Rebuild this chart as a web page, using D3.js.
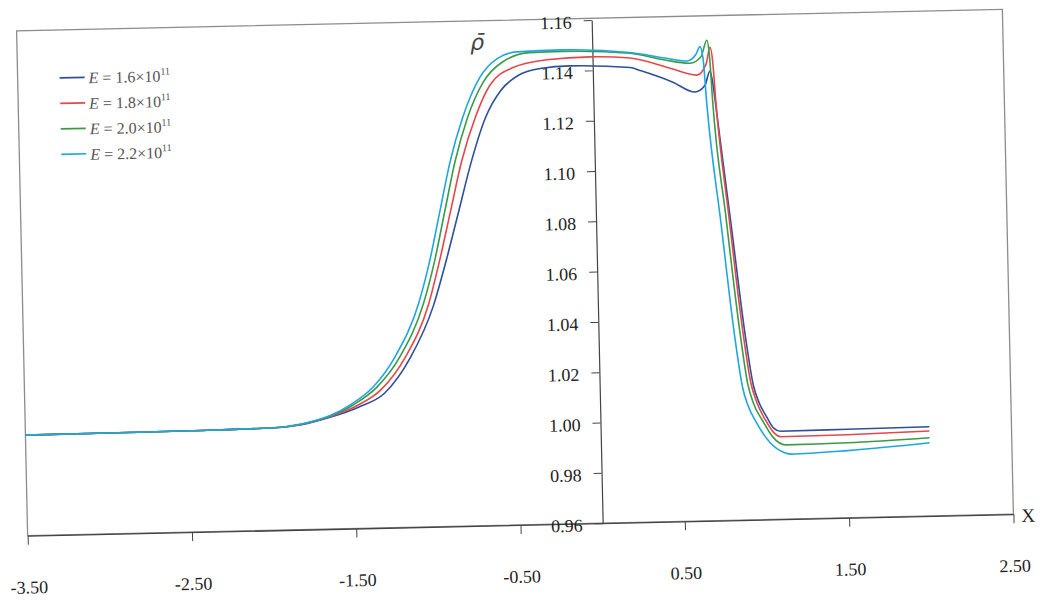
<!DOCTYPE html>
<html><head><meta charset="utf-8">
<script src="https://cdn.jsdelivr.net/npm/d3@7"></script>
<style>body{margin:0;background:#fff;} svg{display:block;} .serif{font-family:'Liberation Serif','Times New Roman',serif;}</style>
</head><body>
<svg id="c" width="1040" height="602"></svg>
<script>
// ---- data ----
const xTicks = [-3.5, -2.5, -1.5, -0.5, 0.5, 1.5, 2.5];
const yTicks = [0.96, 0.98, 1.00, 1.02, 1.04, 1.06, 1.08, 1.10, 1.12, 1.14, 1.16];
const seriesLabels = ["1.6", "1.8", "2.0", "2.2"];
const exponent = "11";

const x16 = [-3.5,-3.0,-2.5,-2.0,-1.82,-1.64,-1.47,-1.31,-1.148,-1.0,-0.92,-0.835,-0.75,-0.66,-0.56,-0.45,-0.32,-0.14,0.228,0.289,0.486,0.619,0.68,0.713,0.73,0.75,0.825,0.895,0.935,0.968,1.012,1.053,1.095,1.5,2.0];
const y16 = [1.0000,1.0001,1.0003,1.0007,1.0017,1.0045,1.0082,1.0135,1.0274,1.0480,1.0650,1.0850,1.1050,1.1220,1.1330,1.1388,1.1412,1.1420,1.1408,1.1395,1.1346,1.1305,1.1330,1.1387,1.1331,1.1210,1.0750,1.0320,1.0135,1.0065,1.0008,0.9963,0.9950,0.9952,0.9955];

const x18 = [-3.5,-3.0,-2.5,-2.0,-1.82,-1.64,-1.48,-1.33,-1.18,-1.03,-0.96,-0.885,-0.81,-0.72,-0.628,-0.485,-0.278,-0.015,0.228,0.47,0.633,0.69,0.716,0.73,0.745,0.81,0.88,0.92,0.955,1.005,1.047,1.095,1.5,2.0];
const y18 = [1.0000,1.0001,1.0003,1.0007,1.0018,1.0048,1.0088,1.0150,1.0275,1.0485,1.0650,1.0850,1.1050,1.1225,1.1350,1.1418,1.1446,1.1454,1.1446,1.1402,1.1372,1.1415,1.1482,1.1430,1.1260,1.0800,1.0340,1.0145,1.0065,0.9995,0.9950,0.9928,0.9930,0.9938];

const x20 = [-3.5,-3.0,-2.5,-2.0,-1.82,-1.64,-1.50,-1.355,-1.21,-1.06,-0.99,-0.92,-0.85,-0.77,-0.67,-0.546,-0.381,-0.179,0.228,0.44,0.592,0.66,0.698,0.712,0.725,0.79,0.86,0.90,0.935,0.985,1.046,1.124,1.5,2.0];
const y20 = [1.0000,1.0001,1.0003,1.0007,1.0019,1.0050,1.0092,1.0160,1.0280,1.0490,1.0650,1.0850,1.1050,1.1220,1.1361,1.1442,1.1476,1.1478,1.1465,1.1435,1.1420,1.1445,1.1510,1.1445,1.1270,1.0810,1.0350,1.0145,1.0060,0.9995,0.9928,0.9895,0.9898,0.9911];

const x22 = [-3.5,-3.0,-2.5,-2.0,-1.82,-1.64,-1.52,-1.38,-1.24,-1.09,-1.02,-0.95,-0.88,-0.80,-0.69,-0.58,-0.46,-0.18,0.228,0.44,0.574,0.63,0.655,0.672,0.69,0.76,0.83,0.87,0.90,0.95,1.03,1.11,1.153,1.5,2.0];
const y22 = [1.0000,1.0001,1.0003,1.0007,1.0020,1.0052,1.0092,1.0160,1.0280,1.0490,1.0650,1.0850,1.1050,1.1220,1.1380,1.1455,1.1480,1.1484,1.1468,1.1443,1.1429,1.1455,1.1485,1.1440,1.1250,1.0780,1.0320,1.0125,1.0055,0.9985,0.9905,0.9866,0.9858,0.9867,0.9891];

const colors = ["#2f4f9c", "#e5474b", "#3c9a48", "#1ea6e2"];
const series = [[x16,y16],[x18,y18],[x20,y20],[x22,y22]].map(([xs,ys]) => xs.map((v,i)=>[v, ys[i]]));

// ---- layout ----
const L = 22, R = 1008, T = 20, B = 525;
const serif = "'Liberation Serif','Times New Roman',serif";
const svg = d3.select("#c");
const g = svg.append("g").attr("transform", "rotate(-1.25,515,272.5)");

const x = d3.scaleLinear().domain([-3.5, 2.5]).range([L, R]);
const y = d3.scaleLinear().domain([0.96, 1.16]).range([B, 21.8]);

// frame
g.append("rect").attr("x", L).attr("y", T).attr("width", R-L).attr("height", B-T)
  .attr("fill", "none").attr("stroke", "#8c8c8c").attr("stroke-width", 1.3);

// x axis
const xa = g.append("g").attr("transform", `translate(0,${B})`)
  .call(d3.axisBottom(x).tickValues(xTicks).tickSize(9).tickSizeOuter(0).tickPadding(36)
    .tickFormat(d => d.toFixed(2)));
xa.attr("font-family", null);
xa.select(".domain").attr("stroke", "#444").attr("stroke-width", 1.3);
xa.selectAll(".tick line").attr("stroke", "#444");
xa.selectAll("text").attr("class", "serif").style("font-family", serif).attr("font-size", 18).attr("fill", "#222");

// y axis
const ya = g.append("g").attr("transform", `translate(${x(0)},0)`)
  .call(d3.axisLeft(y).tickValues(yTicks).tickSize(8).tickSizeOuter(0).tickPadding(12)
    .tickFormat(d => d.toFixed(2)));
ya.attr("font-family", null);
ya.select(".domain").attr("stroke", "#444").attr("stroke-width", 1.2);
ya.selectAll(".tick line").attr("stroke", "#444");
ya.selectAll("text").attr("class", "serif").style("font-family", serif).attr("font-size", 18).attr("fill", "#222").attr("dy", "0.42em");

// axis titles
g.append("text").attr("x", R + 8).attr("y", B + 8).style("font-family", serif)
  .attr("font-size", 19).attr("fill", "#222").text("X");
g.append("text").attr("x", 482).attr("y", 49).attr("text-anchor", "middle")
  .style("font-family", "'DejaVu Sans',sans-serif").attr("font-style", "italic")
  .attr("font-size", 22).attr("fill", "#444").text("\u03C1\u0304");

// curves
const line = d3.line().x(d => x(d[0])).y(d => y(d[1])).curve(d3.curveMonotoneX);
g.selectAll("path.s").data(series).join("path").attr("class", "s")
  .attr("d", line).attr("fill", "none")
  .attr("stroke", (d,i) => colors[i]).attr("stroke-width", 1.6);

// legend
const lg = g.append("g");
seriesLabels.forEach((lab, i) => {
  const yy = 68 + i * 25.5;
  lg.append("line").attr("x1", 64).attr("x2", 89).attr("y1", yy).attr("y2", yy)
    .attr("stroke", colors[i]).attr("stroke-width", 1.6);
  const t = lg.append("text").attr("x", 93).attr("y", yy + 6)
    .style("font-family", serif).attr("font-size", 16).attr("fill", "#555");
  t.append("tspan").attr("font-style", "italic").text("E");
  t.append("tspan").text(" = " + lab + "\u00D710");
  t.append("tspan").attr("font-size", 10).attr("dy", -7).text(exponent);
});
</script>
</body></html>
